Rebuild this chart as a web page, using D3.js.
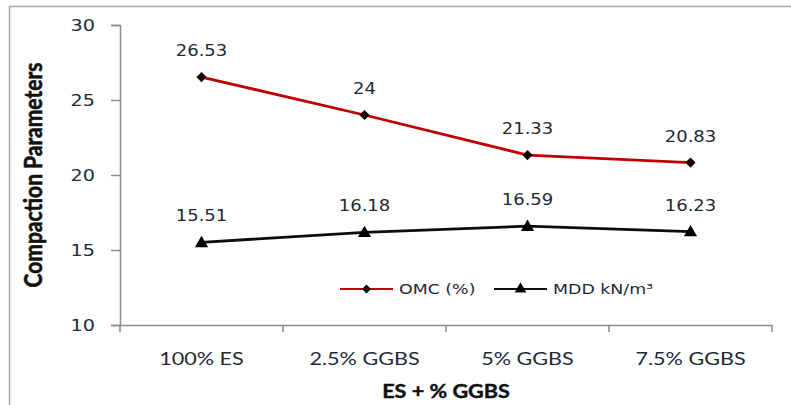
<!DOCTYPE html>
<html>
<head>
<meta charset="utf-8">
<script src="https://cdn.jsdelivr.net/npm/d3@7"></script>
<style>
  html, body { margin: 0; padding: 0; background: #fff; }
  svg { display: block; }
</style>
</head>
<body>
<svg id="chart" width="791" height="405"></svg>
<script>
// Compaction test results for expansive soil blended with GGBS
const categories = ["100% ES", "2.5% GGBS", "5% GGBS", "7.5% GGBS"];
const omcValues = [26.53, 24, 21.33, 20.83];   // optimum moisture content, %
const mddValues = [15.51, 16.18, 16.59, 16.23]; // maximum dry density, kN/m³
const yTicks = [10, 15, 20, 25, 30];
const seriesNames = ["OMC (%)", "MDD kN/m³"];

const W = 791, H = 405;
const margin = { left: 120, right: 19, top: 25, bottom: 80 };
const STRETCH = 1.2;           // horizontal text stretch used throughout
const textColor = "#232a36";
const axisColor = "#8c8c8c";
const red = "#c00000";

const svg = d3.select("#chart");

// chart-area frame
svg.append("rect")
  .attr("x", 9.5).attr("y", 6.5)
  .attr("width", W + 20).attr("height", H + 20)
  .attr("fill", "none").attr("stroke", "#a6a6a6").attr("stroke-width", 1.5);

const x = d3.scaleBand().domain(categories)
  .range([margin.left, W - margin.right]).paddingInner(0).paddingOuter(0);
const y = d3.scaleLinear().domain([10, 30]).range([H - margin.bottom, margin.top]);
const cx = c => x(c) + x.bandwidth() / 2;

// y axis
const yAxis = svg.append("g")
  .attr("transform", `translate(${margin.left},0)`)
  .call(d3.axisLeft(y).tickValues(yTicks).tickSize(9).tickPadding(0).tickFormat(d3.format("d")));
yAxis.select(".domain").attr("stroke", axisColor).attr("stroke-width", 1.5);
yAxis.selectAll(".tick line").attr("stroke", axisColor).attr("stroke-width", 1.5);
yAxis.selectAll(".tick text")
  .attr("x", -25 / STRETCH).attr("dy", "0.36em")
  .attr("transform", `scale(${STRETCH},1)`)
  .attr("fill", textColor)
  .style("font-family", "'DejaVu Sans', Verdana, sans-serif").style("font-size", "16px");

// x axis: labels at band centres, tick marks at band boundaries
const xAxis = svg.append("g")
  .attr("transform", `translate(0,${y(10)})`)
  .call(d3.axisBottom(x).tickSize(0).tickPadding(0));
xAxis.select(".domain").attr("stroke", axisColor).attr("stroke-width", 1.5);
xAxis.selectAll(".tick text")
  .attr("y", 40).attr("dy", 0)
  .attr("transform", `scale(${STRETCH},1)`)
  .attr("fill", textColor)
  .style("font-family", "Lato, 'Open Sans', sans-serif").style("font-size", "18px");
const boundaries = categories.map(c => x(c)).concat([x.range()[1]]);
xAxis.selectAll("line.bound").data(boundaries).join("line")
  .attr("class", "bound")
  .attr("x1", d => d).attr("x2", d => d)
  .attr("y1", 0).attr("y2", 7)
  .attr("stroke", axisColor).attr("stroke-width", 1.5);

// axis titles
svg.append("text")
  .attr("transform", `translate(${(x.range()[0] + x.range()[1]) / 2},398) scale(${STRETCH},1)`)
  .attr("text-anchor", "middle")
  .attr("fill", "#111").attr("stroke", "#111").attr("stroke-width", 0.4)
  .style("font-family", "Lato, sans-serif").style("font-weight", "bold").style("font-size", "18px")
  .text("ES + % GGBS");
svg.append("text")
  .attr("transform", `translate(42,${(y(10) + y(30)) / 2}) rotate(-90) scale(1,${STRETCH})`)
  .attr("text-anchor", "middle")
  .attr("fill", "#111").attr("stroke", "#111").attr("stroke-width", 0.5)
  .style("font-family", "Lato, sans-serif").style("font-weight", "bold").style("font-size", "21px")
  .text("Compaction Parameters");

// series
const line = d3.line().x((d, i) => cx(categories[i])).y(d => y(d));

svg.append("path").datum(omcValues)
  .attr("d", line).attr("fill", "none").attr("stroke", red).attr("stroke-width", 2.8);
svg.append("path").datum(mddValues)
  .attr("d", line).attr("fill", "none").attr("stroke", "#0d0d0d").attr("stroke-width", 2.8);

svg.selectAll("path.omc-m").data(omcValues).join("path")
  .attr("class", "omc-m")
  .attr("transform", (d, i) => `translate(${cx(categories[i])},${y(d)}) rotate(45)`)
  .attr("d", d3.symbol().type(d3.symbolSquare).size(52))
  .attr("fill", "#120000");
svg.selectAll("path.mdd-m").data(mddValues).join("path")
  .attr("class", "mdd-m")
  .attr("transform", (d, i) => `translate(${cx(categories[i])},${y(d) + 1})`)
  .attr("d", d3.symbol().type(d3.symbolTriangle).size(75))
  .attr("fill", "#000");

// data labels
const labelFont = sel => sel
  .attr("text-anchor", "middle").attr("fill", textColor)
  .style("font-family", "'DejaVu Sans', Verdana, sans-serif").style("font-size", "15px");

svg.selectAll("text.omc-l").data(omcValues).join("text")
  .attr("class", "omc-l")
  .attr("transform", (d, i) => `translate(${cx(categories[i])},${y(d) - 21}) scale(${STRETCH},1)`)
  .call(labelFont)
  .text(d => d);
svg.selectAll("text.mdd-l").data(mddValues).join("text")
  .attr("class", "mdd-l")
  .attr("transform", (d, i) => `translate(${cx(categories[i])},${y(d) - 21}) scale(${STRETCH},1)`)
  .call(labelFont)
  .text(d => d);

// legend
const legend = svg.append("g").attr("transform", "translate(340,289)");
const items = [
  { name: seriesNames[0], color: red, x0: 0, marker: "diamond" },
  { name: seriesNames[1], color: "#0d0d0d", x0: 154, marker: "triangle" }
];
items.forEach(it => {
  const g = legend.append("g").attr("transform", `translate(${it.x0},0)`);
  g.append("line").attr("x1", 0).attr("x2", 53).attr("y1", 0).attr("y2", 0)
    .attr("stroke", it.color).attr("stroke-width", 2);
  if (it.marker === "diamond") {
    g.append("path").attr("transform", "translate(26.5,0) rotate(45)")
      .attr("d", d3.symbol().type(d3.symbolSquare).size(40)).attr("fill", "#120000");
  } else {
    g.append("path").attr("transform", "translate(26.5,0)")
      .attr("d", d3.symbol().type(d3.symbolTriangle).size(60)).attr("fill", "#000");
  }
  g.append("text")
    .attr("transform", `translate(59,5) scale(${STRETCH},1)`)
    .attr("fill", textColor)
    .style("font-family", "'DejaVu Sans', Verdana, sans-serif").style("font-size", "14.5px")
    .text(it.name);
});
</script>
</body>
</html>
